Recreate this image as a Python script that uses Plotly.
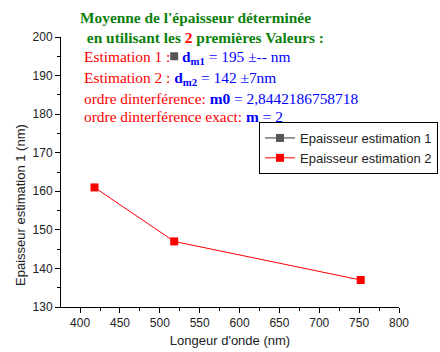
import plotly.graph_objects as go

# Wavelengths (nm) and estimated film thickness (nm)
lambda_est1 = [518]
thick_est1 = [195]
lambda_est2 = [418, 518, 752]
thick_est2 = [161, 147, 137]

x_ticks = [400, 450, 500, 550, 600, 650, 700, 750, 800]
y_ticks = [130, 140, 150, 160, 170, 180, 190, 200]

GREEN = "#0c800c"
RED = "#ff0000"
BLUE = "#0000ff"
SERIF = "Liberation Serif, Times New Roman, serif"
SANS = "Liberation Sans, Arial, sans-serif"

fig = go.Figure()
fig.add_trace(go.Scatter(
    x=lambda_est1, y=thick_est1, mode="lines+markers",
    name="Epaisseur estimation 1",
    line=dict(color="#333333", width=1),
    marker=dict(symbol="square", size=8, color="#555555"),
))
fig.add_trace(go.Scatter(
    x=lambda_est2, y=thick_est2, mode="lines+markers",
    name="Epaisseur estimation 2",
    line=dict(color=RED, width=1),
    marker=dict(symbol="square", size=8, color=RED),
))

axis_common = dict(
    showline=True, linecolor="black", linewidth=1,
    ticks="outside", ticklen=5, tickcolor="black", tickwidth=1,
    showgrid=False, zeroline=False, mirror=False,
    tickfont=dict(family=SANS, size=12, color="#222222"),
)

fig.update_xaxes(
    range=[376, 800], tickvals=x_ticks,
    minor=dict(ticks="outside", ticklen=3, dtick=25, tick0=400, tickcolor="black"),
    title=dict(text="Longeur d'onde (nm)", font=dict(family=SANS, size=13, color="#222222"), standoff=6),
    **axis_common,
)
fig.update_yaxes(
    range=[130, 200], tickvals=y_ticks,
    minor=dict(ticks="outside", ticklen=3, dtick=5, tick0=130, tickcolor="black"),
    **axis_common,
)

# Plot area spans px 61..399 horizontally and 37..307 vertically
def px_x(p):
    return (p - 61) / 338

def px_y(p):
    return (307 - p) / 270

FS = 15.4
lines = [
    (78, 18, f"<b><span style='color:{GREEN}'>Moyenne de l'épaisseur déterminée</span></b>"),
    (81, 37, f"<b><span style='color:{GREEN}'> en utilisant les </span><span style='color:{RED}'>2</span>"
             f"<span style='color:{GREEN}'> premières Valeurs :</span></b>"),
    (82, 57, f"<span style='color:{RED}'>Estimation 1 :</span>"
             f"<span style='color:{BLUE}'>   <b>d<sub>m1</sub></b> = 195 ±-- nm</span>"),
    (82, 78, f"<span style='color:{RED}'>Estimation 2 : </span>"
             f"<span style='color:{BLUE}'><b>d<sub>m2</sub></b> = 142 ±7nm</span>"),
    (82, 98, f"<span style='color:{RED}'>ordre dinterférence: </span>"
             f"<span style='color:{BLUE}'><b>m0</b> = 2,8442186758718</span>"),
    (82, 116, f"<span style='color:{RED}'>ordre dinterférence exact: </span>"
              f"<span style='color:{BLUE}'><b>m</b> = 2</span>"),
]
for lx, ly, txt in lines:
    fig.add_annotation(
        x=px_x(lx), y=px_y(ly), xref="paper", yref="paper",
        xanchor="left", yanchor="middle", showarrow=False, align="left",
        text=txt, font=dict(family=SERIF, size=FS),
    )

# Vertical axis title
fig.add_annotation(
    x=px_x(20), y=px_y(205), xref="paper", yref="paper",
    xanchor="center", yanchor="middle", showarrow=False, textangle=-90,
    text="Epaisseur estimation 1 (nm)",
    font=dict(family=SANS, size=13, color="#222222"),
)

fig.update_layout(
    width=440, height=352,
    margin=dict(l=61, r=41, t=37, b=45, autoexpand=False),
    paper_bgcolor="white", plot_bgcolor="white",
    showlegend=True,
    legend=dict(
        x=px_x(259), y=px_y(122), xanchor="left", yanchor="top",
        bgcolor="white", bordercolor="black", borderwidth=1,
        font=dict(family=SANS, size=13, color="#222222"),
        itemwidth=30, tracegroupgap=0,
    ),
)

fig.write_html("out.html")
